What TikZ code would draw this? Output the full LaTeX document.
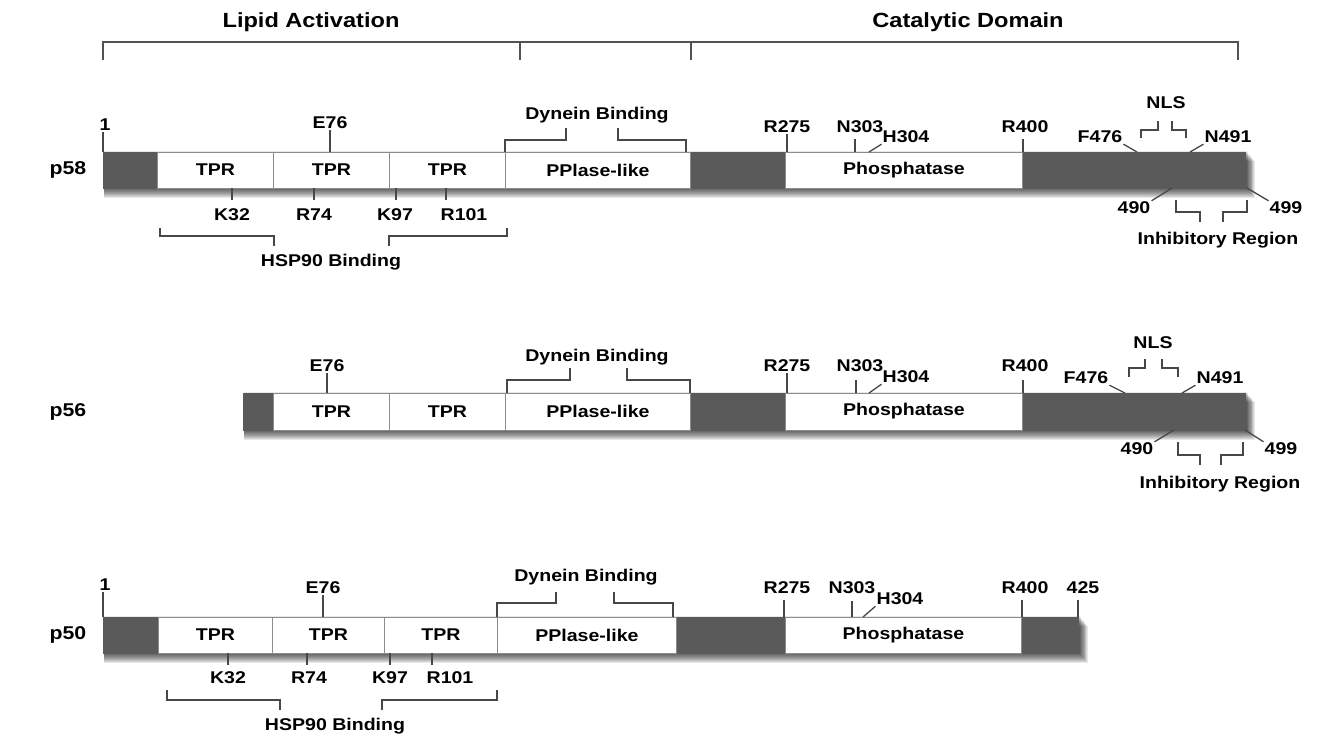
\documentclass[tikz,border=0pt]{standalone}
\usepackage{fontspec}
\setmainfont{Liberation Sans}[FakeStretch=1.15]
\definecolor{darkseg}{RGB}{90,90,90}
\definecolor{edgegray}{RGB}{140,140,140}

\begin{document}
\begin{tikzpicture}[x=1pt,y=-1pt,
  lbl/.style={font=\bfseries\fontsize{17}{17}\selectfont, inner sep=1pt},
  headlbl/.style={font=\bfseries\fontsize{20.5}{20.5}\selectfont, inner sep=1pt},
  rowname/.style={font=\bfseries\fontsize{18.5}{18.5}\selectfont},
  darkbox/.style={fill=darkseg, draw=darkseg},
  litebox/.style={fill=white, draw=edgegray, line width=0.9pt},
  tick/.style={draw=black!72, line width=1.3pt},
  topbrk/.style={draw=black!68, line width=2.4pt}]
\useasboundingbox (0,0) rectangle (1319,739);

% domain bracket on top
\draw[topbrk] (103,60) -- (103,42) -- (1238,42) -- (1238,60);
\draw[topbrk] (520,42) -- (520,60);
\draw[topbrk] (691,42) -- (691,60);
\node[headlbl] (lipid) at (311,22) {Lipid Activation};
\node[headlbl] (catal) at (968,22) {Catalytic Domain};

% ---------------- p58 ----------------
\node[rowname] (p58) at (68,170) {p58};
\foreach \i in {1,...,11}
  \fill[black, opacity=0.09] (104,150+\i) rectangle (1246+0.8*\i,187+\i);
\foreach \a/\b in {103/157, 690/785, 1022/1245}
  \draw[darkbox] (\a,152) rectangle (\b,188);
\foreach \a/\b/\t in {157/273/TPR, 273/389/TPR, 389/505/TPR, 505/690/PPlase-like, 785/1022/Phosphatase}
  \node[litebox, lbl, minimum width=\b-\a, minimum height=36, anchor=west] (p58s\a) at (\a,170) {\t};

\node[lbl] (p58n1) at (105,125) {1};
\draw[tick] (p58n1.south) ++(-2,0) -- (103,152);
\node[lbl] (p58e76) at (330,123) {E76};
\draw[tick] (p58e76.south) -- (330,152);
\node[lbl] (p58dyn) at (597,115) {Dynein Binding};
\draw[tick] (505,152) -- (505,140) -- (566,140) -- (566,128);
\draw[tick] (618,128) -- (618,140) -- (686,140) -- (686,152);
\node[lbl] (p58r275) at (787,127) {R275};
\draw[tick] (p58r275.south) -- (787,152);
\node[lbl] (p58n303) at (860,127) {N303};
\draw[tick] (855,139) -- (855,152);
\node[lbl] (p58h304) at (906,137) {H304};
\draw[tick] (p58h304.south west) -- (869,152);
\node[lbl] (p58r400) at (1025,127) {R400};
\draw[tick] (1023,139) -- (1023,152);
\node[lbl] (p58f476) at (1100,137) {F476};
\draw[tick] (p58f476.south east) -- (1137,152);
\node[lbl] (p58nls) at (1166,103) {NLS};
\draw[tick] (1141,138) -- (1141,130) -- (1158,130) -- (1158,121);
\draw[tick] (1172,121) -- (1172,130) -- (1186,130) -- (1186,138);
\node[lbl] (p58n491) at (1228,137) {N491};
\draw[tick] (p58n491.south west) -- (1190,152);
\node[lbl] (p58a490) at (1134,208) {490};
\draw[tick] (p58a490.north east) -- (1172,188);
\node[lbl] (p58a499) at (1286,208) {499};
\draw[tick] (p58a499.north west) -- (1247,188);
\draw[tick] (1176,200) -- (1176,212) -- (1200,212) -- (1200,222);
\draw[tick] (1223,222) -- (1223,212) -- (1247,212) -- (1247,200);
\node[lbl] (p58inh) at (1218,240) {Inhibitory Region};
\node[lbl] (p58k32) at (232,215) {K32};
\draw[tick] (232,188) -- (232,200);
\node[lbl] (p58r74) at (314,215) {R74};
\draw[tick] (314,188) -- (314,200);
\node[lbl] (p58k97) at (395,215) {K97};
\draw[tick] (396,188) -- (396,200);
\node[lbl] (p58r101) at (464,215) {R101};
\draw[tick] (446,188) -- (446,200);
\draw[tick] (160,228) -- (160,236) -- (274,236) -- (274,246);
\draw[tick] (389,246) -- (389,236) -- (507,236) -- (507,228);
\node[lbl] (p58hsp) at (331,262) {HSP90 Binding};

% ---------------- p56 ----------------
\node[rowname] (p56) at (68,412) {p56};
\foreach \i in {1,...,11}
  \fill[black, opacity=0.09] (244,391+\i) rectangle (1246+0.8*\i,429+\i);
\foreach \a/\b in {243/273, 690/785, 1022/1245}
  \draw[darkbox] (\a,393) rectangle (\b,430);
\foreach \a/\b/\t in {273/389/TPR, 389/505/TPR, 505/690/PPlase-like, 785/1022/Phosphatase}
  \node[litebox, lbl, minimum width=\b-\a, minimum height=37, anchor=west] (p56s\a) at (\a,411.5) {\t};

\node[lbl] (p56e76) at (327,366) {E76};
\draw[tick] (p56e76.south) -- (327,393);
\node[lbl] (p56dyn) at (597,357) {Dynein Binding};
\draw[tick] (507,393) -- (507,380) -- (570,380) -- (570,368);
\draw[tick] (627,368) -- (627,380) -- (690,380) -- (690,393);
\node[lbl] (p56r275) at (787,366) {R275};
\draw[tick] (p56r275.south) -- (787,393);
\node[lbl] (p56n303) at (860,366) {N303};
\draw[tick] (856,380) -- (856,393);
\node[lbl] (p56h304) at (906,377) {H304};
\draw[tick] (p56h304.south west) -- (869,393);
\node[lbl] (p56r400) at (1025,366) {R400};
\draw[tick] (1023,380) -- (1023,393);
\node[lbl] (p56f476) at (1086,378) {F476};
\draw[tick] (p56f476.south east) -- (1125,393);
\node[lbl] (p56nls) at (1153,343) {NLS};
\draw[tick] (1129,377) -- (1129,368) -- (1145,368) -- (1145,359);
\draw[tick] (1162,359) -- (1162,368) -- (1178,368) -- (1178,377);
\node[lbl] (p56n491) at (1220,378) {N491};
\draw[tick] (p56n491.south west) -- (1182,393);
\node[lbl] (p56a490) at (1137,449) {490};
\draw[tick] (p56a490.north east) -- (1174,430);
\node[lbl] (p56a499) at (1281,449) {499};
\draw[tick] (p56a499.north west) -- (1245,430);
\draw[tick] (1178,442) -- (1178,455) -- (1200,455) -- (1200,465);
\draw[tick] (1221,465) -- (1221,455) -- (1243,455) -- (1243,442);
\node[lbl] (p56inh) at (1220,484) {Inhibitory Region};

% ---------------- p50 ----------------
\node[rowname] (p50) at (68,635) {p50};
\foreach \i in {1,...,11}
  \fill[black, opacity=0.09] (104,615+\i) rectangle (1079+0.8*\i,652+\i);
\foreach \a/\b in {103/158, 676/785, 1021/1078}
  \draw[darkbox] (\a,617) rectangle (\b,653);
\foreach \a/\b/\t in {158/272/TPR, 272/384/TPR, 384/497/TPR, 497/676/PPlase-like, 785/1021/Phosphatase}
  \node[litebox, lbl, minimum width=\b-\a, minimum height=36, anchor=west] (p50s\a) at (\a,635) {\t};

\node[lbl] (p50n1) at (105,585) {1};
\draw[tick] (p50n1.south) ++(-2,0) -- (103,617);
\node[lbl] (p50e76) at (323,588) {E76};
\draw[tick] (p50e76.south) -- (323,617);
\node[lbl] (p50dyn) at (586,577) {Dynein Binding};
\draw[tick] (497,617) -- (497,603) -- (556,603) -- (556,592);
\draw[tick] (614,592) -- (614,603) -- (673,603) -- (673,617);
\node[lbl] (p50r275) at (787,588) {R275};
\draw[tick] (784,600) -- (784,617);
\node[lbl] (p50n303) at (852,588) {N303};
\draw[tick] (852,601) -- (852,617);
\node[lbl] (p50h304) at (900,599) {H304};
\draw[tick] (p50h304.south west) -- (863,617);
\node[lbl] (p50r400) at (1025,588) {R400};
\draw[tick] (1022,600) -- (1022,617);
\node[lbl] (p50n425) at (1083,588) {425};
\draw[tick] (1078,600) -- (1078,617);
\node[lbl] (p50k32) at (228,678) {K32};
\draw[tick] (228,653) -- (228,665);
\node[lbl] (p50r74) at (309,678) {R74};
\draw[tick] (307,653) -- (307,665);
\node[lbl] (p50k97) at (390,678) {K97};
\draw[tick] (390,653) -- (390,665);
\node[lbl] (p50r101) at (450,678) {R101};
\draw[tick] (432,653) -- (432,665);
\draw[tick] (167,690) -- (167,700) -- (280,700) -- (280,710);
\draw[tick] (382,710) -- (382,700) -- (497,700) -- (497,690);
\node[lbl] (p50hsp) at (335,726) {HSP90 Binding};
\end{tikzpicture}
\end{document}
